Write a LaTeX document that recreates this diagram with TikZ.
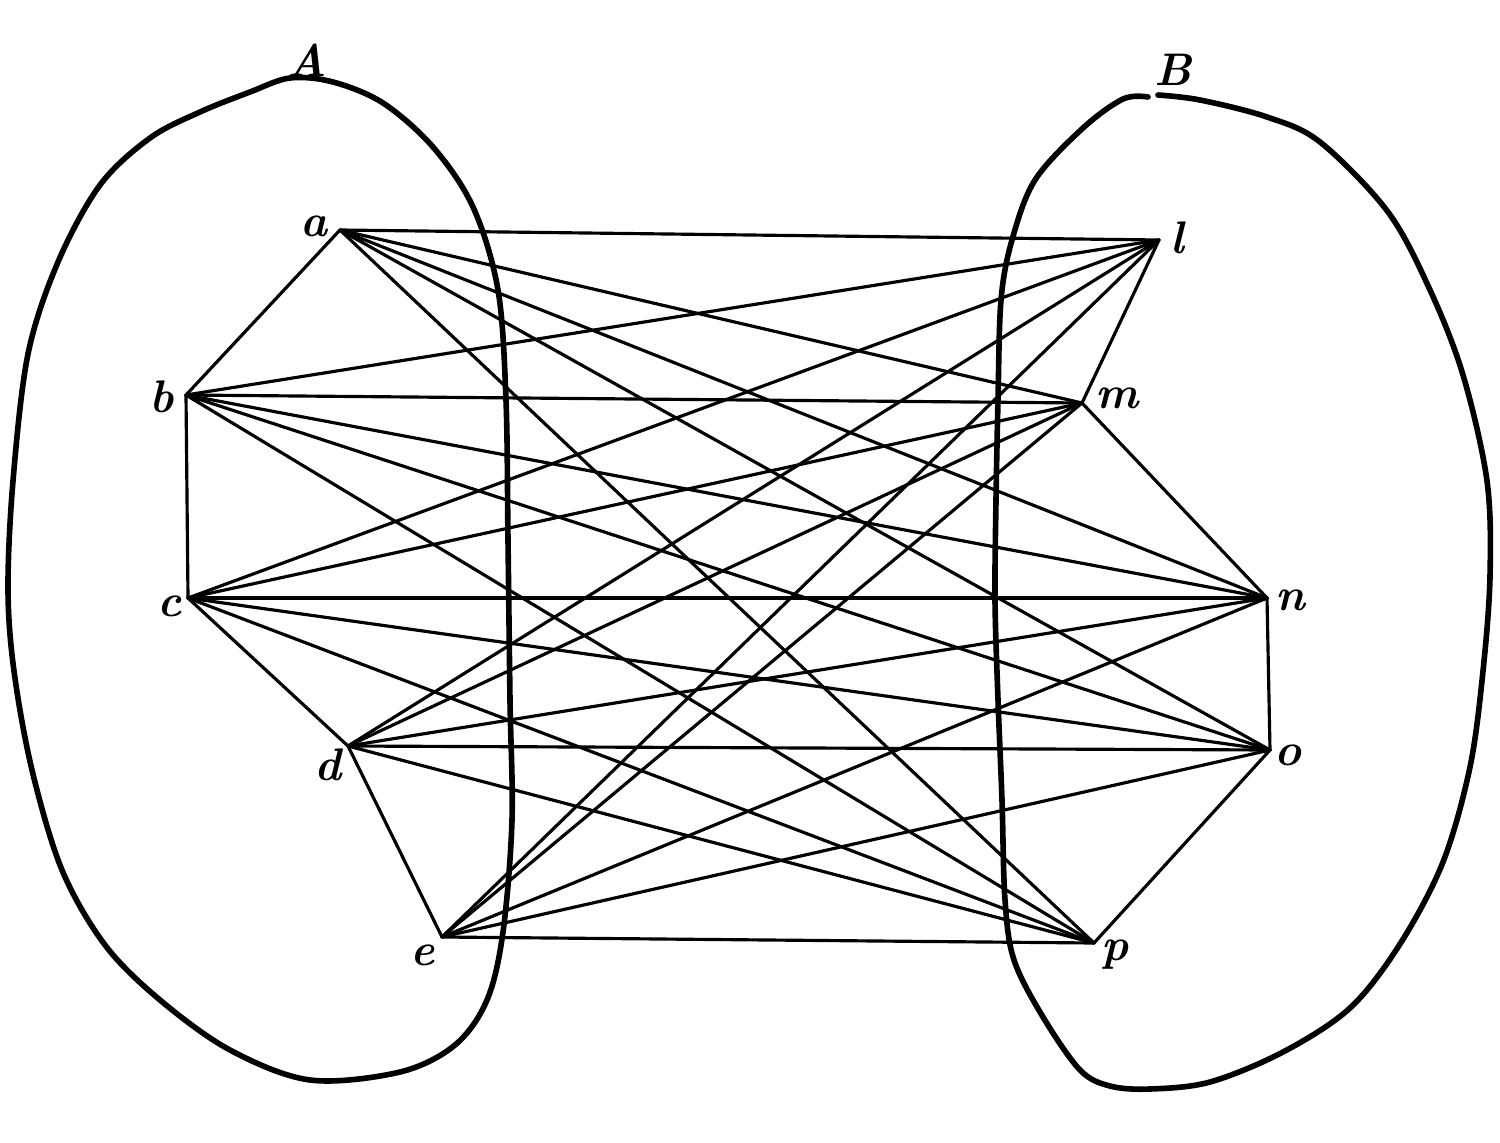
\documentclass[tikz,border=0pt]{standalone}
\usepackage{fontspec}
\begin{document}
\begin{tikzpicture}[x=0.02cm,y=-0.02cm,
  edge/.style={line width=1.8pt, line cap=round, line join=round},
  region/.style={line width=3.2pt, line join=round, line cap=round},
  lab/.style={font=\fontsize{26}{30}\selectfont\bfseries\itshape, inner sep=0pt}]
\fill[white] (0,0) rectangle (1500,1142);
\useasboundingbox (0,0) rectangle (1500,1142);
% vertices
\coordinate (a) at (340,230);
\coordinate (b) at (186,395);
\coordinate (c) at (188,598);
\coordinate (d) at (348,746);
\coordinate (e) at (442,937);
\coordinate (l) at (1159,240);
\coordinate (m) at (1082,403);
\coordinate (n) at (1267,598);
\coordinate (o) at (1270,750);
\coordinate (p) at (1094,943);
% labels
\node[lab] (la) at (314,226) {a};
\node[lab] (lb) at (162,397) {b};
\node[lab] (lc) at (170,606) {c};
\node[lab] (ld) at (328,765) {d};
\node[lab] (le) at (423,955) {e};
\node[lab] (ll) at (1177,238) {l};
\node[lab] (lm) at (1117,398) {m};
\node[lab] (ln) at (1290,600) {n};
\node[lab] (lo) at (1288,755) {o};
\node[lab] (lp) at (1115,955) {p};
\node[lab] (lA) at (307,62) {\underline{A}};
\node[lab] (lB) at (1173,70) {B};
% region A
\draw[region] plot[smooth cycle, tension=0.55] coordinates {
 (290,78) (333,82) (383,103) (433,147) (473,207) (498,290) (506,400)
 (508,540) (510,700) (512,820) (503,932) (487,1000) (455,1045) (400,1072)
 (310,1080) (230,1050) (160,1000) (105,945) (62,870) (32,770) (14,671)
 (8,589) (13,481) (28,354) (58,262) (100,185) (150,138) (200,112) (250,92)};
% region B (open at the top)
\draw[region] plot[smooth, tension=0.55] coordinates {
 (1158,95) (1200,100) (1267,117) (1320,142) (1388,212) (1430,290) (1463,375)
 (1487,481) (1490,576) (1483,671) (1470,767) (1443,862) (1400,944)
 (1350,1008) (1283,1052) (1210,1082) (1150,1089) (1110,1086) (1080,1070)
 (1043,1017) (1014,960) (1005,900) (1002,800) (998,700) (995,600)
 (996,500) (998,400) (1001,300) (1012,240) (1035,180) (1083,128) (1123,99) (1148,97)};
% edges
\foreach \u in {a,b,c,d,e}
  \foreach \v in {l,m,n,o,p}
    \draw[edge] (\u) -- (\v);
\draw[edge] (a) -- (b) -- (c) -- (d) -- (e);
\draw[edge] (l) -- (m) -- (n) -- (o) -- (p);
\end{tikzpicture}
\end{document}
